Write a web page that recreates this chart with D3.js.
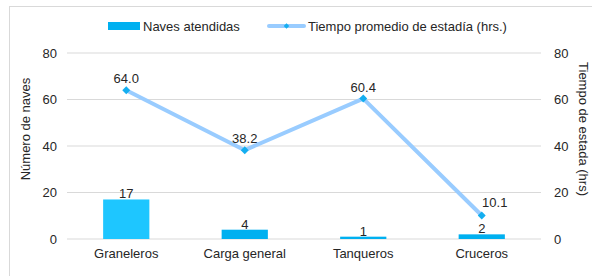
<!DOCTYPE html>
<html>
<head>
<meta charset="utf-8">
<script src="https://cdn.jsdelivr.net/npm/d3@7"></script>
<style>
  body { margin: 0; background: #fff; }
  text { font-family: "Liberation Sans", Arial, sans-serif; fill: #262626; }
</style>
</head>
<body>
<script>
var categories = ["Graneleros", "Carga general", "Tanqueros", "Cruceros"];
var naves = [17, 4, 1, 2];
var tiempo = [64.0, 38.2, 60.4, 10.1];
var yTicks = [0, 20, 40, 60, 80];
var barColors = ["#1ec6ff", "#00b0f0", "#00b0f0", "#00b0f0"];

var width = 592, height = 276;
var margin = {top: 53, right: 51, bottom: 37, left: 67};
var w = width - margin.left - margin.right,
    h = height - margin.top - margin.bottom;

var svg = d3.select("body").append("svg")
    .attr("width", width)
    .attr("height", height);

// chart border
svg.append("rect")
    .attr("x", 9.5).attr("y", 6.5)
    .attr("width", 600).attr("height", 300)
    .attr("fill", "none")
    .attr("stroke", "#d9d9d9");

var g = svg.append("g")
    .attr("transform", "translate(" + margin.left + "," + margin.top + ")");

var x = d3.scaleBand().domain(categories).range([0, w]).paddingInner(0.61).paddingOuter(0.305);
var y = d3.scaleLinear().domain([0, 80]).range([h, 0]);
var y2 = d3.scaleLinear().domain([0, 80]).range([h, 0]);

// gridlines
g.selectAll(".grid").data(yTicks).enter().append("line")
    .attr("x1", 0).attr("x2", w)
    .attr("y1", function(d) { return y(d); })
    .attr("y2", function(d) { return y(d); })
    .attr("stroke", "#d9d9d9").attr("stroke-width", 1);

// left axis
var yAxis = g.append("g")
    .call(d3.axisLeft(y).tickValues(yTicks).tickSize(0).tickPadding(10));
yAxis.select(".domain").remove();
yAxis.selectAll("text").attr("font-size", 13).attr("font-family", "Liberation Sans, Arial, sans-serif").attr("fill", "#262626");

// right axis
var yAxis2 = g.append("g")
    .attr("transform", "translate(" + w + ",0)")
    .call(d3.axisRight(y2).tickValues(yTicks).tickSize(0).tickPadding(13));
yAxis2.select(".domain").remove();
yAxis2.selectAll("text").attr("font-size", 13).attr("font-family", "Liberation Sans, Arial, sans-serif").attr("fill", "#262626");

// x axis
var xAxis = g.append("g")
    .attr("transform", "translate(0," + h + ")")
    .call(d3.axisBottom(x).tickSize(0).tickPadding(10));
xAxis.select(".domain").remove();
xAxis.selectAll("text").attr("font-size", 13).attr("font-family", "Liberation Sans, Arial, sans-serif").attr("fill", "#262626");

// bars
var data = categories.map(function(c, i) { return {cat: c, n: naves[i], t: tiempo[i], color: barColors[i]}; });

g.selectAll(".bar").data(data).enter().append("rect")
    .attr("class", "bar")
    .attr("x", function(d) { return x(d.cat); })
    .attr("width", x.bandwidth())
    .attr("y", function(d) { return y(d.n); })
    .attr("height", function(d) { return h - y(d.n); })
    .attr("fill", function(d) { return d.color; });

g.selectAll(".barlabel").data(data).enter().append("text")
    .attr("x", function(d) { return x(d.cat) + x.bandwidth() / 2; })
    .attr("y", function(d) { return y(d.n) - 1; })
    .attr("text-anchor", "middle")
    .attr("font-size", 13)
    .text(function(d) { return d.n; });

// line
var line = d3.line()
    .x(function(d) { return x(d.cat) + x.bandwidth() / 2; })
    .y(function(d) { return y2(d.t); });

g.append("path").datum(data)
    .attr("d", line)
    .attr("fill", "none")
    .attr("stroke", "#99ccff")
    .attr("stroke-width", 4)
    .attr("stroke-linejoin", "round");

g.selectAll(".pt").data(data).enter().append("path")
    .attr("d", d3.symbol().type(d3.symbolDiamond2).size(40))
    .attr("transform", function(d) { return "translate(" + (x(d.cat) + x.bandwidth() / 2) + "," + y2(d.t) + ")"; })
    .attr("fill", "#14aef0");

g.selectAll(".ptlabel").data(data).enter().append("text")
    .attr("x", function(d, i) { return x(d.cat) + x.bandwidth() / 2 + (i == 3 ? 13 : 0); })
    .attr("y", function(d, i) { return y2(d.t) - (i == 3 ? 9 : 7); })
    .attr("text-anchor", "middle")
    .attr("font-size", 13)
    .text(function(d) { return d.t.toFixed(1); });

// axis titles
svg.append("text")
    .attr("transform", "translate(30,129) rotate(-90)")
    .attr("text-anchor", "middle")
    .attr("font-size", 13)
    .text("Número de naves");

svg.append("text")
    .attr("transform", "translate(579,129) rotate(90)")
    .attr("text-anchor", "middle")
    .attr("font-size", 13)
    .text("Tiempo de estada (hrs)");

// legend
var leg = svg.append("g");
leg.append("rect")
    .attr("x", 108).attr("y", 22).attr("width", 32).attr("height", 8)
    .attr("fill", "#00b0f0");
leg.append("text")
    .attr("x", 143).attr("y", 31)
    .attr("font-size", 13)
    .text("Naves atendidas");
leg.append("line")
    .attr("x1", 269).attr("x2", 304).attr("y1", 26).attr("y2", 26)
    .attr("stroke", "#99ccff").attr("stroke-width", 4).attr("stroke-linecap", "round");
leg.append("path")
    .attr("d", d3.symbol().type(d3.symbolDiamond2).size(20))
    .attr("transform", "translate(286.5,26)")
    .attr("fill", "#14aef0");
leg.append("text")
    .attr("x", 308).attr("y", 31)
    .attr("font-size", 13)
    .text("Tiempo promedio de estadía (hrs.)");
</script>
</body>
</html>
